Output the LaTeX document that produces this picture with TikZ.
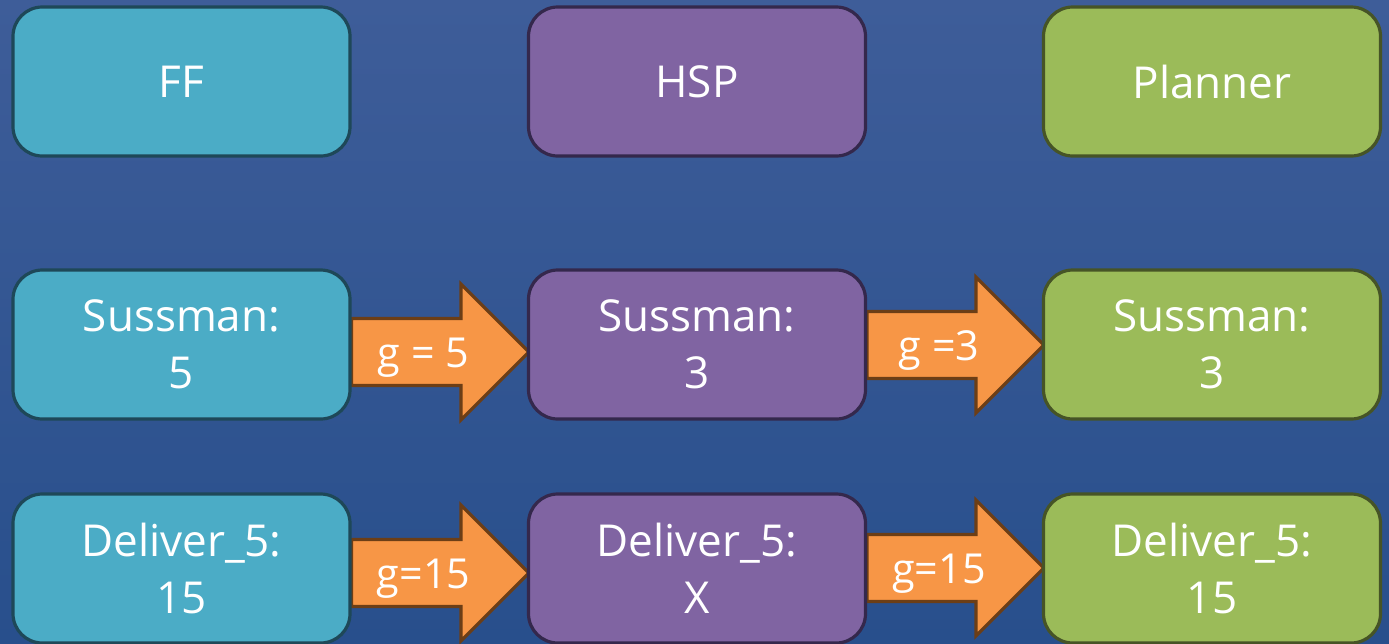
\documentclass[tikz,border=0pt]{standalone}
\usepackage{fontspec}
\setmainfont{Open Sans}
\usetikzlibrary{calc,backgrounds}

\definecolor{bgtop}{RGB}{62,93,153}
\definecolor{bgbot}{RGB}{40,79,140}
\definecolor{ffill}{RGB}{75,172,198}
\definecolor{fline}{RGB}{30,72,88}
\definecolor{hfill}{RGB}{128,100,162}
\definecolor{hline}{RGB}{52,40,76}
\definecolor{pfill}{RGB}{155,187,89}
\definecolor{pline}{RGB}{70,84,38}
\definecolor{afill}{RGB}{247,150,70}
\definecolor{aline}{RGB}{108,62,22}

\tikzset{
  box/.style={rectangle, rounded corners=22pt, line width=2.4pt,
    minimum width=252.75pt, minimum height=111.75pt, inner sep=0pt,
    align=center, text=white, font=\fontsize{33}{42.75}\selectfont},
  ffbox/.style={box, fill=ffill, draw=fline},
  hspbox/.style={box, fill=hfill, draw=hline},
  plbox/.style={box, fill=pfill, draw=pline},
  garrow/.style={fill=afill, draw=aline, line width=2.4pt, line join=miter},
  glabel/.style={text=white, inner sep=0pt, font=\fontsize{31}{37}\selectfont}
}

% block arrow from box #1 to box #2, shifted down by #3 px, labelled #5 (node name #4)
\newcommand\gradarrow[5]{%
  \coordinate (s) at ($(#1.east)+(0,#3)$);
  \coordinate (t) at ($(#2.west)+(0,#3)$);
  \draw[garrow] ($(s)+(0,-33.5)$) -- ($(t)+(-66,-33.5)$) -- ($(t)+(-66,-68)$)
    -- ($(t)+(2,0)$) -- ($(t)+(-66,68)$) -- ($(t)+(-66,33.5)$)
    -- ($(s)+(0,33.5)$) -- cycle;
  \node[glabel, anchor=base] (#4) at ($(s)+(72,15)$) {#5};
}

\begin{document}
\begin{tikzpicture}[x=0.75pt, y=-0.75pt]
  \useasboundingbox (0,0) rectangle (1389,643);
  \begin{scope}[on background layer]
    \shade[top color=bgtop, bottom color=bgbot] (0,0) rectangle (1389,643);
  \end{scope}

  % planners
  \node[ffbox]  (ff)  at (181.5,81.5) {FF};
  \node[hspbox] (hsp) at (697,81.5)   {HSP};
  \node[plbox]  (pl)  at (1212,81.5)  {Planner};

  % Sussman results
  \node[ffbox]  (ffs)  at (181.5,344.5) {Sussman:\\5};
  \node[hspbox] (hsps) at (697,344.5)   {Sussman:\\3};
  \node[plbox]  (pls)  at (1212,344.5)  {Sussman:\\3};

  % Deliver_5 results
  \node[ffbox]  (ffd)  at (181.5,568.5) {Deliver\_5:\\15};
  \node[hspbox] (hspd) at (697,568.5)   {Deliver\_5:\\X};
  \node[plbox]  (pld)  at (1212,568.5)  {Deliver\_5:\\15};

  % bounds passed along, drawn behind the boxes
  \begin{scope}[on background layer]
    \gradarrow{ffs}{hsps}{7.5}{la}{g = 5}
    \gradarrow{hsps}{pls}{0.5}{lb}{g =3}
    \gradarrow{ffd}{hspd}{4.5}{lc}{g=15}
    \gradarrow{hspd}{pld}{-0.5}{ld}{g=15}
  \end{scope}
\end{tikzpicture}
\end{document}
